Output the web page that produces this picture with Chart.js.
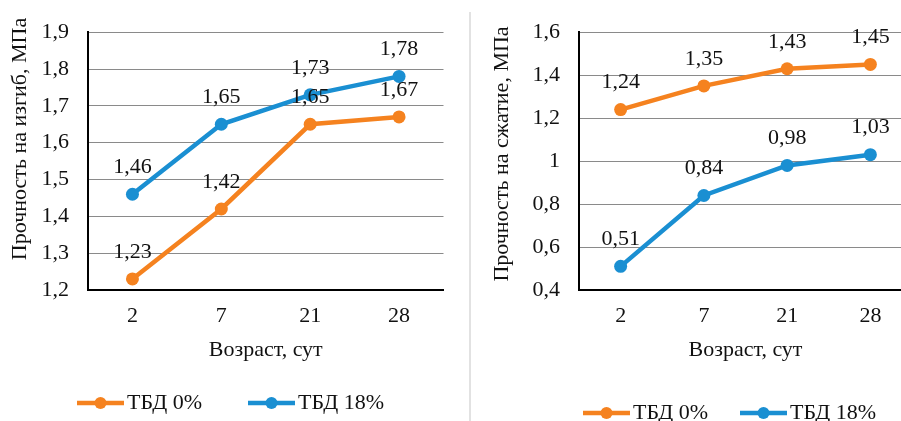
<!DOCTYPE html>
<html lang="ru">
<head>
<meta charset="utf-8">
<script src="https://cdn.jsdelivr.net/npm/chart.js@4.4.1/dist/chart.umd.min.js"></script>
<style>
  body { margin: 0; width: 901px; height: 421px; overflow: hidden; position: relative; background: #fff; }
  .box { position: absolute; top: 0; height: 421px; }
  #divider { position: absolute; left: 469px; top: 12px; width: 2px; height: 409px; background: #e2e2e2; }
</style>
</head>
<body>
<div class="box" style="left:0;width:450px"><canvas id="graficoIzgib"></canvas></div>
<div id="divider"></div>
<div class="box" style="left:471px;width:450px"><canvas id="graficoSzhatie"></canvas></div>
<script>
// Данные (возраст, сут)
const categorias = ['2', '7', '21', '28'];
const nomesSeries = ['ТБД 0%', 'ТБД 18%'];

// Прочность на изгиб, МПа
const izgib0 = [1.23, 1.42, 1.65, 1.67];
const izgib18 = [1.46, 1.65, 1.73, 1.78];

// Прочность на сжатие, МПа
const szhatie0 = [1.24, 1.35, 1.43, 1.45];
const szhatie18 = [0.51, 0.84, 0.98, 1.03];

const corLaranja = '#F5821F';
const corAzul = '#1A8FD2';
const corTexto = '#111';
const fonte = "'Liberation Serif', serif";
const tamanho = 22;

// numero com virgula: 1.5 -> "1,5", 1 -> "1"
const comVirgula = v => String(Number(v.toFixed(2))).replace('.', ',');

// Rotulos acima dos pontos
const pluginRotulos = {
    id: 'rotulos',
    afterDatasetsDraw(chart) {
        const ctx = chart.ctx;
        ctx.save();
        ctx.font = tamanho + 'px ' + fonte;
        ctx.fillStyle = corTexto;
        ctx.textAlign = 'center';
        ctx.textBaseline = 'middle';
        chart.data.datasets.forEach((ds, i) => {
            chart.getDatasetMeta(i).data.forEach((pt, j) => {
                ctx.fillText(comVirgula(ds.data[j]), pt.x, pt.y - 27);
            });
        });
        ctx.restore();
    }
};

// Legenda: linha com marcador + texto
const pluginLegenda = {
    id: 'legendaLinha',
    afterDraw(chart, args, opts) {
        const ctx = chart.ctx;
        ctx.save();
        ctx.font = tamanho + 'px ' + fonte;
        ctx.textBaseline = 'middle';
        ctx.textAlign = 'left';
        chart.data.datasets.forEach((ds, i) => {
            const x0 = opts.xs[i];
            const y = opts.y;
            ctx.strokeStyle = ds.borderColor;
            ctx.lineWidth = 4.5;
            ctx.beginPath();
            ctx.moveTo(x0, y);
            ctx.lineTo(x0 + 47, y);
            ctx.stroke();
            ctx.fillStyle = ds.borderColor;
            ctx.beginPath();
            ctx.arc(x0 + 23.5, y, 6, 0, Math.PI * 2);
            ctx.fill();
            ctx.fillStyle = corTexto;
            ctx.fillText(ds.label, x0 + 50, y);
        });
        ctx.restore();
    }
};

// Titulo do eixo Y (girado)
const pluginTituloY = {
    id: 'tituloY',
    afterDraw(chart, args, opts) {
        const ctx = chart.ctx;
        ctx.save();
        ctx.font = tamanho + 'px ' + fonte;
        ctx.fillStyle = corTexto;
        ctx.textAlign = 'center';
        ctx.textBaseline = 'middle';
        ctx.translate(opts.x, opts.y);
        ctx.rotate(-Math.PI / 2);
        ctx.fillText(opts.text, 0, 0);
        ctx.restore();
    }
};

function criarGrafico(id, serie0, serie18, yMin, yMax, passo, larguraY, padDireita, tituloY, legenda) {
    const ctx = document.getElementById(id).getContext('2d');
    return new Chart(ctx, {
        type: 'line',
        data: {
            labels: categorias,
            datasets: [
                { label: nomesSeries[0], data: serie0, borderColor: corLaranja, backgroundColor: corLaranja },
                { label: nomesSeries[1], data: serie18, borderColor: corAzul, backgroundColor: corAzul }
            ]
        },
        options: {
            responsive: true,
            maintainAspectRatio: false,
            animation: false,
            layout: { padding: { top: 22, right: padDireita, left: 0, bottom: 0 } },
            elements: {
                line: { borderWidth: 4.5, tension: 0 },
                point: { radius: 6.5, borderWidth: 0, hoverRadius: 6.5 }
            },
            plugins: {
                legend: { display: false },
                tooltip: { enabled: false },
                legendaLinha: legenda,
                tituloY: tituloY
            },
            scales: {
                x: {
                    offset: true,
                    grid: { display: false, drawTicks: false },
                    border: { color: '#000', width: 2 },
                    ticks: { color: corTexto, font: { family: fonte, size: tamanho }, padding: 13 },
                    title: {
                        display: true,
                        text: 'Возраст, сут',
                        color: corTexto,
                        font: { family: fonte, size: tamanho },
                        padding: { top: 0, bottom: 58 }
                    },
                    afterFit: s => { s.height = 131; }
                },
                y: {
                    min: yMin,
                    max: yMax,
                    grid: { color: '#8a8a8a', lineWidth: 1, drawTicks: false },
                    border: { color: '#000', width: 2 },
                    ticks: {
                        stepSize: passo,
                        color: corTexto,
                        font: { family: fonte, size: tamanho },
                        padding: 19,
                        callback: v => comVirgula(v)
                    },
                    afterFit: s => { s.width = larguraY; }
                }
            }
        },
        plugins: [pluginRotulos, pluginLegenda, pluginTituloY]
    });
}

function desenhar() {
    criarGrafico('graficoIzgib', izgib0, izgib18, 1.2, 1.9, 0.1, 88, 5,
        { text: 'Прочность на изгиб, МПа', x: 20, y: 139 },
        { xs: [77, 248], y: 403 });

    criarGrafico('graficoSzhatie', szhatie0, szhatie18, 0.4, 1.6, 0.2, 108, 9,
        { text: 'Прочность на сжатие, МПа', x: 31, y: 154 },
        { xs: [112, 269], y: 413 });
}

// espera a fonte antes de desenhar
document.fonts.load(tamanho + "px 'Liberation Serif'", 'Возраст 1,65')
    .then(desenhar)
    .catch(desenhar);
</script>
</body>
</html>
